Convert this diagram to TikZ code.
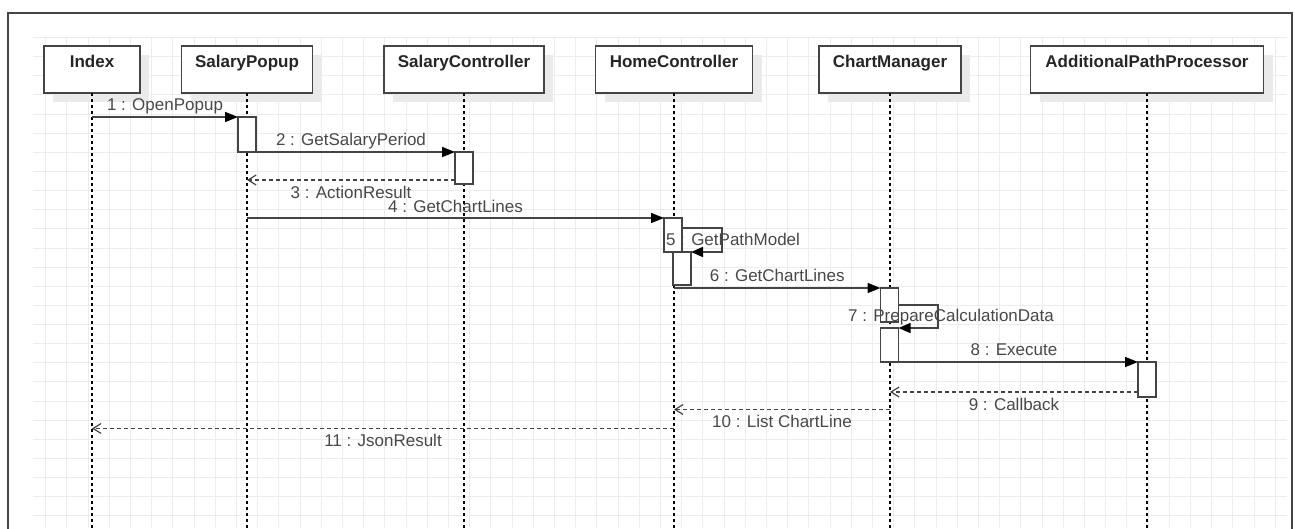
\documentclass[tikz,border=0pt]{standalone}
\usepackage{fontspec}
\setmainfont{Liberation Sans}
\usetikzlibrary{arrows.meta,shadows}

\definecolor{gridline}{RGB}{236,236,236}
\definecolor{ink}{RGB}{68,68,68}
\definecolor{labelink}{RGB}{72,72,72}
\definecolor{titleink}{RGB}{38,38,38}
\definecolor{shade}{RGB}{234,234,234}

\begin{document}
\begin{tikzpicture}[x=1pt,y=-1pt,
  every node/.style={font=\fontsize{17}{20}\selectfont},
  head/.style={draw=ink, line width=1.5pt, fill=white, minimum height=47pt,
    inner xsep=0pt, inner ysep=0pt, outer sep=0pt, text height=21pt, text depth=26pt,
    font=\fontsize{17}{20}\selectfont\bfseries, text=titleink,
    general shadow={fill=shade, shadow xshift=9pt, shadow yshift=-9pt}},
  lifeline/.style={draw=black, line width=1.3pt, dash pattern=on 3pt off 3pt},
  act/.style={draw=ink, line width=1.5pt, fill=white, minimum width=18pt,
    inner sep=0pt, outer sep=0pt},
  msg/.style={draw=ink, line width=1.6pt, -{Triangle[length=13pt,width=10pt,color=black]}},
  loopmsg/.style={msg, -{Triangle[length=12pt,width=10pt,color=black]}},
  ret/.style={draw=ink, line width=1.4pt, dash pattern=on 4pt off 3pt,
    -{Straight Barb[length=8pt,width=10pt,line width=1.2pt]}},
  lbl/.style={text=labelink, inner sep=0pt},
  txtup/.style={lbl, anchor=base, yshift=7pt},
  txtdown/.style={lbl, anchor=base, yshift=-18pt}
]
\useasboundingbox (0,0) rectangle (1295,528);
\clip (0,0) rectangle (1295,528);
\coordinate (bot) at (0,540);

% background grid
\foreach \i in {0,...,58}
  \draw[gridline, line width=1pt] (45.7+21.2*\i,37) -- (45.7+21.2*\i,528);
\foreach \k in {0,...,25}
  \draw[gridline, line width=1pt] (33,37.6+19.13*\k) -- (1287,37.6+19.13*\k);

% frame
\draw[ink, line width=1.4pt] (8,540) -- (8,13) -- (1292,13) -- (1292,540);

% participants
\node[head, minimum width=96pt]  (idx) at (92,69.5)   {Index};
\node[head, minimum width=131pt] (sp)  at (247,69.5)  {SalaryPopup};
\node[head, minimum width=160pt] (sc)  at (464,69.5)  {SalaryController};
\node[head, minimum width=157pt] (hc)  at (674,69.5)  {HomeController};
\node[head, minimum width=142pt] (cm)  at (890,69.5)  {ChartManager};
\node[head, minimum width=233pt] (app) at (1147,69.5) {AdditionalPathProcessor};

% lifelines
\foreach \p in {idx,sp,sc,hc,cm,app}
  \draw[lifeline] (\p.south) -- (\p.south |- bot);

% activation bars
\node[act, minimum height=35pt] (a1) at (247,134.5)  {};
\node[act, minimum height=32pt] (a2) at (464,168)    {};
\node[act, minimum height=34pt] (a3) at (673,235)    {};
\node[act, minimum height=33pt] (a4) at (682,268.5)  {};
\node[act, minimum height=34pt] (a5) at (889.5,305)  {};
\node[act, minimum height=34pt] (a6) at (889.5,345)  {};
\node[act, minimum height=35pt] (a7) at (1147,379.5) {};

% messages
\draw[msg] (idx.south |- a1.north) -- node[txtup] {1 : OpenPopup} (a1.north west);
\draw[msg] (a1.south) -- node[txtup] {2 : GetSalaryPeriod} (a2.north west);
\draw[ret] (a2.west |- 0,180) -- node[txtdown] {3 : ActionResult} (sp.south |- 0,180);
\draw[msg] (sp.south |- a3.north) -- node[txtup, yshift=-1pt] {4 : GetChartLines} (a3.north west);
\draw[loopmsg] (a3.east |- 0,228) -- (722,228) -- (722,252) -- (a4.north east);
\node[lbl, anchor=base] (l5) at (733,245) {5 : GetPathModel};
\draw[msg] (hc.south |- a5.north) -- node[txtup] {6 : GetChartLines} (a5.north west);
\draw[loopmsg] (a5.east |- 0,305) -- (938,305) -- (938,328) -- (a6.north east);
\node[lbl, anchor=base] (l7) at (951,321) {7 : PrepareCalculationData};
\draw[msg] (cm.south |- a6.south) -- node[txtup] {8 : Execute} (a7.north west);
\draw[ret] (a7.west |- 0,392) -- node[txtdown] {9 : Callback} (cm.south |- 0,392);
\draw[ret] (cm.south |- 0,409.5) -- node[txtdown] {10 : List ChartLine} (hc.south |- 0,409.5);
\draw[ret] (hc.south |- 0,428.5) -- node[txtdown] {11 : JsonResult} (idx.south |- 0,428.5);
\end{tikzpicture}
\end{document}
